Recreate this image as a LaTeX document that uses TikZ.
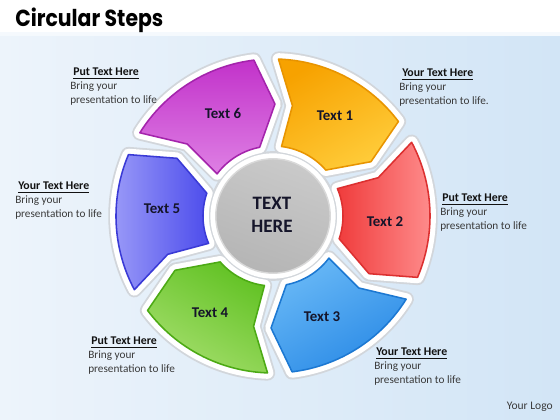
\documentclass[tikz,border=0pt]{standalone}
\usepackage{fontspec}
\usepackage{graphicx}
\setmainfont{Carlito}
\newfontfamily\titlefont{Poppins}
\definecolor{bgL}{HTML}{EDF4FB}
\definecolor{bgR}{HTML}{D2E5F6}
\definecolor{halo}{HTML}{D2D6DB}
\definecolor{labelc}{HTML}{15152A}
\definecolor{bodyc}{HTML}{3A3A3A}
\definecolor{hdrc}{HTML}{111111}
\tikzset{
  seglabel/.style={font=\bfseries\fontsize{10.6}{12}\selectfont, text=labelc, inner sep=0},
  hdr/.style={anchor=base west, inner sep=0, font=\bfseries\fontsize{8.4}{10}\selectfont, text=hdrc},
  bodytxt/.style={anchor=base west, inner sep=0, font=\fontsize{8}{10}\selectfont, text=bodyc},
  halogray/.style={draw=halo, line width=11pt, line join=round},
  halowhite/.style={draw=white, line width=8.4pt, line join=round},
}
\newcommand\segpath[1]{(#1+31:157) arc[start angle=#1+31,end angle=#1-20,radius=3.925cm] -- (#1-28:112) -- (#1-16:70) arc[start angle=#1-16,end angle=#1+26,radius=1.75cm] -- (#1+23:112) -- cycle}
\newcommand\sidenote[6]{%
  \node[hdr] (#1h) at (#2,{416-#3}) {\underline{#5}};
  \node[bodytxt] (#1a) at (#4,{402-#3}) {Bring your};
  \node[bodytxt] (#1b) at (#4,{388-#3}) {#6};
}
\begin{document}
\begin{tikzpicture}[x=0.025cm,y=0.025cm]
\useasboundingbox (0,0) rectangle (560,420);
\shade[left color=bgL, right color=bgR] (0,0) rectangle (560,386);
\shade[top color=white, bottom color=bgL!60!white] (0,384) rectangle (560,420);
\fill[white] (0,388) rectangle (560,420);
\node[anchor=base west, inner sep=0] (title) at (15,393) {\scalebox{0.88}[1]{\titlefont\bfseries\fontsize{16.5}{18}\selectfont Circular Steps}};
\begin{scope}[shift={(273,204)}]
  \foreach \t in {57,-3,-63,-123,177,117} \draw[halogray] \segpath{\t};
  \fill[halo] (0,0) circle[radius=1.62cm];
  \foreach \t in {57,-3,-63,-123,177,117} \draw[halowhite] \segpath{\t};
  \fill[white] (0,0) circle[radius=1.565cm];
  \foreach \t/\ct/\cb/\ang/\cd in {57/F7A200/FFCC3A/30/E89400, -3/FF9090/F03C3C/-90/DC3030, -63/68B8F6/2A8AE6/30/1C78D2, -123/62C224/A4DE6C/-30/4CAA14, 177/9C9CF8/4C4CEC/90/3A3AD6, 117/C232CA/DE80E4/0/A424AC}{
    \definecolor{ct}{HTML}{\ct}\definecolor{cb}{HTML}{\cb}\definecolor{cd}{HTML}{\cd}
    \shadedraw[top color=ct, bottom color=cb, shading angle=\ang, draw=cd, line width=1.1pt, line join=round] \segpath{\t};
  }
  \shadedraw[top color=gray!42, bottom color=gray!58, shading angle=-20, draw=gray!30, line width=1pt] (0,0) circle[radius=1.43cm];
\end{scope}
\node[seglabel] (t1) at (335,304) {Text 1};
\node[seglabel] (t2) at (385,198) {Text 2};
\node[seglabel] (t3) at (322,103) {Text 3};
\node[seglabel] (t4) at (210,107) {Text 4};
\node[seglabel] (t5) at (162,211) {Text 5};
\node[seglabel] (t6) at (223,307) {Text 6};
\node[font=\bfseries\fontsize{13.5}{16.4}\selectfont, text=labelc, align=center, inner sep=0] (center) at (272,205) {TEXT\\HERE};
\sidenote{tl}{73}{72}{70}{Put Text Here}{presentation to life}
\sidenote{tr}{402}{73}{399}{Your Text Here}{presentation to life.}
\sidenote{l}{18}{186}{15}{Your Text Here}{presentation to life}
\sidenote{r}{442}{198}{440}{Put Text Here}{presentation to life}
\sidenote{bl}{91}{341}{88}{Put Text Here}{presentation to life}
\sidenote{br}{376}{352}{374}{Your Text Here}{presentation to life}
\node[anchor=base east, inner sep=0, font=\fontsize{8.2}{10}\selectfont, text=bodyc] (logo) at (553,10) {Your Logo};
\end{tikzpicture}
\end{document}
